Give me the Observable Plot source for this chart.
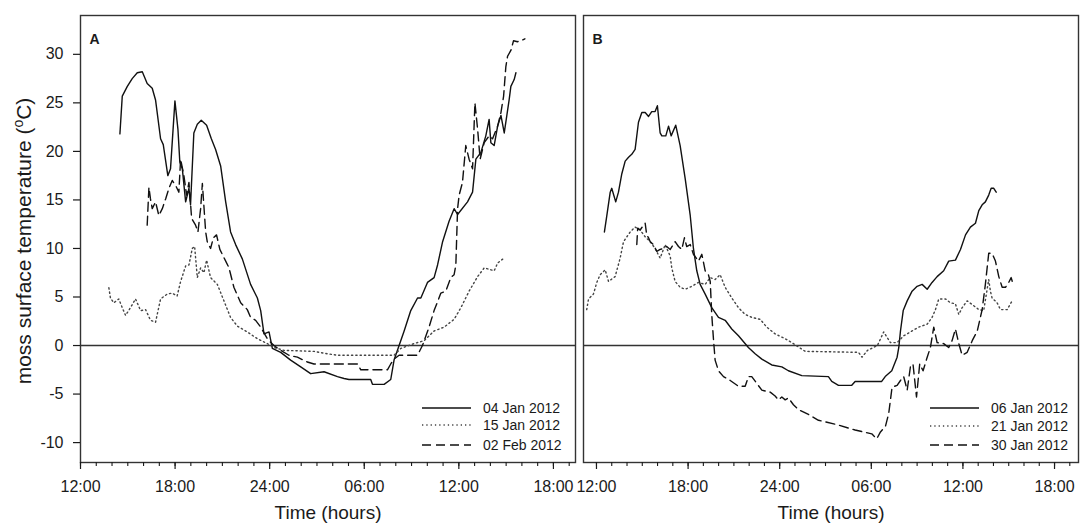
<!DOCTYPE html>
<html><head><meta charset="utf-8">
<script src="https://cdn.jsdelivr.net/npm/d3@7"></script>
<script src="https://cdn.jsdelivr.net/npm/@observablehq/plot@0.6"></script>
<style>
html,body{margin:0;padding:0;background:#fff;}
#wrap{position:relative;width:1092px;height:530px;overflow:hidden;font-family:"Liberation Sans",Arial,sans-serif;}
#wrap > div{position:absolute;top:0;}
</style></head><body>
<div id="wrap"><div id="pa" style="left:0"></div><div id="pb" style="left:578px"></div></div>
<script>
// ---------- data: [hour since midnight of first day, temperature °C] ----------
const seriesNamesA = ["04 Jan 2012", "15 Jan 2012", "02 Feb 2012"];
const seriesNamesB = ["06 Jan 2012", "21 Jan 2012", "30 Jan 2012"];

const a_04Jan = [[14.50,21.8],[14.65,25.7],[14.97,26.7],[15.28,27.5],[15.60,28.1],[15.92,28.2],[16.23,27.0],[16.55,26.5],[16.76,25.3],[17.08,21.3],[17.25,20.7],[17.54,17.5],[17.71,18.2],[17.99,25.2],[18.18,22.3],[18.30,18.9],[18.46,18.2],[18.67,14.8],[18.88,16.2],[18.98,14.5],[19.19,21.9],[19.41,22.8],[19.66,23.2],[20.00,22.7],[20.30,21.3],[20.57,20.2],[20.89,18.5],[21.21,14.8],[21.52,11.7],[21.84,10.4],[22.27,8.9],[22.79,6.3],[23.22,4.9],[23.43,3.6],[23.64,1.2],[23.96,1.4],[24.17,-0.3],[24.70,-0.7],[25.33,-1.5],[25.97,-2.2],[26.60,-2.9],[27.45,-2.7],[28.30,-3.2],[28.72,-3.4],[29.03,-3.5],[30.41,-3.5],[30.52,-4.0],[31.26,-4.0],[31.68,-3.5],[31.89,-1.5],[32.21,0],[32.53,1.5],[32.95,3.6],[33.38,4.9],[33.59,4.9],[34.01,6.5],[34.43,7.0],[34.65,8.3],[34.97,10.7],[35.38,12.8],[35.70,14.1],[35.92,13.5],[36.55,14.8],[36.87,15.8],[37.08,19.2],[37.40,19.9],[37.71,21.6],[37.92,23.3],[38.03,20.9],[38.24,20.6],[38.46,22.6],[38.67,23.7],[38.88,21.9],[39.19,25.3],[39.30,26.7],[39.51,27.4],[39.62,28.1]];

const a_15Jan = [[13.80,5.95],[13.90,4.9],[14.11,4.4],[14.43,4.8],[14.65,3.9],[14.86,3.1],[15.17,3.9],[15.49,4.8],[15.81,3.6],[16.13,3.7],[16.44,2.6],[16.76,2.4],[17.08,4.8],[17.50,5.3],[17.82,5.4],[18.13,5.1],[18.35,6.6],[18.67,8.2],[18.88,8.3],[19.09,10.0],[19.24,10.2],[19.41,7.0],[19.62,8.0],[19.83,7.5],[20.00,8.8],[20.25,7.0],[20.68,6.3],[21.10,4.6],[21.52,2.9],[21.95,2.0],[22.58,1.4],[23.22,0.7],[23.85,0.2],[24.27,-0.2],[24.91,-0.5],[26.81,-0.6],[27.66,-0.85],[28.30,-1.0],[31.89,-1.0],[32.32,-0.3],[33.16,0.2],[33.80,0.5],[34.43,1.5],[35.07,1.9],[35.70,2.7],[36.13,3.9],[36.65,5.6],[37.19,7.1],[37.61,8.0],[38.03,7.8],[38.24,7.7],[38.46,8.5],[38.78,8.9]];

const a_02Feb = [[16.23,12.4],[16.34,16.3],[16.44,15.1],[16.55,14.1],[16.76,14.8],[16.97,13.4],[17.19,14.1],[17.40,15.1],[17.61,16.2],[17.82,17.0],[18.03,16.5],[18.24,15.8],[18.35,19.2],[18.56,17.5],[18.73,15.5],[18.88,16.8],[19.05,13.1],[19.30,12.4],[19.45,11.7],[19.62,14.1],[19.73,16.7],[19.94,11.7],[20.04,10.7],[20.25,10.0],[20.43,11.1],[20.63,11.4],[20.84,9.9],[21.21,8.7],[21.42,8.0],[21.73,6.0],[22.16,4.4],[22.58,3.7],[22.79,2.9],[23.11,2.6],[23.43,1.9],[23.85,0.7],[24.27,0],[24.70,-0.5],[25.22,-1.0],[25.76,-1.2],[26.39,-1.7],[26.81,-1.9],[29.57,-1.9],[29.78,-2.5],[31.47,-2.5],[31.68,-1.9],[31.89,-1.4],[32.21,-1.0],[33.38,-1.0],[33.69,0],[34.11,1.9],[34.43,3.6],[34.86,5.4],[35.17,5.6],[35.49,7.0],[35.70,7.3],[35.81,8.3],[35.92,14.1],[36.02,15.5],[36.23,16.8],[36.44,20.6],[36.65,19.2],[36.87,18.2],[37.02,25.0],[37.19,22.3],[37.35,19.2],[37.61,20.9],[37.92,21.6],[38.14,21.3],[38.46,22.6],[38.67,24.0],[38.84,25.7],[38.98,28.7],[39.09,29.8],[39.30,30.4],[39.47,31.4],[39.72,31.3],[39.94,31.4],[40.19,31.6]];

const b_06Jan = [[12.52,11.7],[12.67,13.3],[12.90,15.8],[13.00,16.2],[13.26,14.8],[13.44,15.8],[13.66,17.7],[13.88,19.0],[14.10,19.4],[14.31,19.7],[14.53,20.2],[14.75,23.0],[14.97,24.0],[15.19,24.0],[15.41,23.6],[15.62,24.1],[15.84,24.1],[15.99,24.7],[16.17,21.9],[16.28,21.6],[16.54,21.6],[16.72,22.6],[16.89,21.6],[17.19,22.7],[17.48,20.6],[17.81,17.2],[18.14,13.4],[18.35,10.0],[18.57,7.7],[18.79,6.3],[19.12,5.3],[19.55,3.9],[19.99,2.9],[20.43,2.6],[20.86,1.7],[21.30,1.0],[21.95,-0.2],[22.39,-0.85],[22.83,-1.4],[23.48,-2.0],[24.14,-2.2],[24.57,-2.6],[25.45,-3.1],[27.19,-3.2],[27.41,-3.7],[27.85,-4.1],[28.72,-4.1],[28.94,-3.7],[30.68,-3.7],[30.91,-3.2],[31.34,-2.6],[31.69,-1.2],[31.80,-0.2],[31.91,1.5],[32.09,3.6],[32.35,4.6],[32.67,5.6],[33.00,6.1],[33.33,6.3],[33.66,5.8],[33.98,6.5],[34.31,7.1],[34.74,7.7],[35.07,8.7],[35.51,8.8],[35.84,9.9],[36.17,11.4],[36.49,12.2],[36.82,12.6],[37.04,13.9],[37.26,14.5],[37.47,14.8],[37.69,15.5],[37.85,16.2],[38.02,16.2],[38.18,15.8]];

const b_21Jan = [[11.36,3.7],[11.48,4.8],[11.80,5.3],[12.02,6.5],[12.24,7.3],[12.57,7.8],[12.79,6.6],[13.22,7.1],[13.55,9.0],[13.77,10.7],[14.21,11.7],[14.53,12.2],[14.86,11.9],[15.19,11.2],[15.52,10.7],[15.84,10.0],[16.17,9.0],[16.50,10.4],[16.83,9.2],[16.93,8.0],[17.15,6.6],[17.48,6.0],[17.81,5.8],[18.24,6.1],[18.68,6.5],[19.12,6.3],[19.45,7.0],[19.77,6.8],[20.10,7.3],[20.43,6.0],[20.86,4.9],[21.30,3.9],[21.74,3.2],[22.17,2.9],[22.72,2.7],[23.15,1.9],[23.70,1.2],[24.36,0.7],[24.79,0.3],[25.67,-0.6],[29.16,-0.7],[29.39,-1.2],[29.75,-0.5],[30.40,0],[30.81,1.4],[31.25,0.3],[31.69,0.3],[32.12,1.0],[32.56,1.4],[33.11,1.9],[33.66,2.2],[33.98,2.9],[34.20,3.7],[34.42,4.8],[34.86,4.8],[35.18,4.4],[35.51,4.3],[35.73,3.2],[35.95,3.9],[36.28,4.6],[36.71,4.1],[37.04,3.7],[37.36,3.6],[37.69,6.8],[37.80,5.6],[37.91,4.9],[38.24,4.4],[38.46,3.7],[38.90,3.7],[39.22,4.6]];

const b_30Jan = [[14.64,10.4],[14.70,12.1],[14.86,11.9],[15.08,12.4],[15.19,12.6],[15.29,11.4],[15.41,11.1],[15.52,10.7],[15.73,10.4],[15.95,9.7],[16.17,9.9],[16.39,10.0],[16.60,10.2],[16.83,9.9],[17.15,10.7],[17.37,10.2],[17.59,9.9],[17.76,11.1],[17.91,10.2],[18.14,10.4],[18.35,9.4],[18.68,8.7],[18.90,9.4],[19.12,7.7],[19.33,7.3],[19.45,6.6],[19.55,3.2],[19.66,0.7],[19.77,-1.5],[19.99,-2.6],[20.32,-3.2],[20.76,-3.6],[21.30,-4.2],[21.74,-4.2],[21.95,-3.2],[22.17,-3.2],[22.50,-3.9],[22.83,-4.6],[23.38,-4.8],[23.70,-5.2],[23.92,-5.6],[24.14,-5.3],[24.36,-5.6],[24.57,-5.4],[24.90,-6.1],[25.23,-6.6],[25.88,-7.1],[26.54,-7.7],[27.63,-8.1],[28.94,-8.7],[30.03,-9.1],[30.36,-9.6],[30.60,-8.9],[30.93,-8.3],[31.14,-7.0],[31.36,-4.3],[31.69,-4.1],[31.91,-3.6],[32.12,-3.2],[32.35,-4.6],[32.56,-2.2],[32.73,-1.9],[32.96,-5.3],[33.17,-1.9],[33.39,-2.6],[33.66,-1.2],[33.87,-0.2],[34.09,1.9],[34.31,0.3],[34.74,0.2],[35.07,-0.2],[35.29,0.5],[35.51,1.7],[35.73,0.2],[35.95,-1.0],[36.28,-0.7],[36.61,0.5],[36.94,1.5],[37.26,3.7],[37.47,6.3],[37.69,9.5],[37.91,9.5],[38.13,8.7],[38.35,7.1],[38.57,6.0],[38.79,6.0],[39.00,6.5],[39.16,7.0],[39.29,6.3]];

const xTickHours = [12, 18, 24, 30, 36, 42];
const xTickLabels = ["12:00", "18:00", "24:00", "06:00", "12:00", "18:00"];
const xMinorHours = d3.range(12, 44, 1);
const yTicks = [-10, -5, 0, 5, 10, 15, 20, 25, 30];

// ---------- styles ----------
const FONT = "Liberation Sans, Arial, sans-serif";
const INK = "#1a1a1a";
const dashes = [null, "1.3,3", "9,5"];
const lineColors = ["#111", "#444", "#111"];
const lineWidths = [1.4, 1.4, 1.4];

function makePanel({series, names, xDomain, width, marginLeft, marginRight, showY, letter, legendX, legendY}) {
  const marks = [
    Plot.frame({stroke: "#333", strokeWidth: 1.4}),
    Plot.ruleY([0], {stroke: "#333", strokeWidth: 1.4}),
    Plot.axisX({ticks: xMinorHours, tickSize: 4, tickFormat: () => "", stroke: INK, strokeWidth: 1.1}),
    Plot.axisX({ticks: xTickHours, tickSize: 7, tickPadding: 11, tickFormat: (d) => xTickLabels[xTickHours.indexOf(d)], fontSize: 16, fill: INK, stroke: INK, strokeWidth: 1.2, label: null}),
    Plot.text(["Time (hours)"], {frameAnchor: "bottom", dy: 56, fontSize: 19, fill: INK}),
    Plot.text([letter], {frameAnchor: "top-left", dx: 14, dy: 19, fontSize: 14, fontWeight: "bold", fill: INK, textAnchor: "middle"})
  ];
  if (showY) marks.push(Plot.axisY({ticks: yTicks, tickSize: 7, tickPadding: 10, tickFormat: (d) => String(d), fontSize: 16, fill: INK, stroke: INK, strokeWidth: 1.2, label: null}));
  series.forEach((s, i) => {
    marks.push(Plot.line(s, {x: (d) => d[0], y: (d) => d[1], stroke: lineColors[i], strokeWidth: lineWidths[i], strokeDasharray: dashes[i] || undefined}));
  });
  const svg = Plot.plot({
    width, height: 530,
    marginLeft, marginRight, marginTop: 15, marginBottom: 68,
    x: {domain: xDomain},
    y: {domain: [-12.05, 34.0], axis: showY ? undefined : null},
    style: {fontFamily: FONT, background: "white", color: INK, overflow: "visible"},
    marks
  });
  // legend (layout in pixels)
  const g = d3.select(svg).append("g").attr("font-family", FONT).attr("font-size", 14).attr("fill", INK).attr("text-anchor", "start");
  names.forEach((n, i) => {
    const y = legendY[i];
    g.append("line").attr("x1", legendX).attr("x2", legendX + 49).attr("y1", y).attr("y2", y)
      .attr("stroke", lineColors[i]).attr("stroke-width", lineWidths[i]).attr("stroke-dasharray", dashes[i] || null);
    g.append("text").attr("x", legendX + 61).attr("y", y).attr("dy", "0.35em").attr("text-anchor", "start").text(n);
  });
  if (showY) {
    const t = d3.select(svg).append("text")
      .attr("transform", "translate(24,241) rotate(-90)")
      .attr("text-anchor", "middle").attr("font-family", FONT).attr("font-size", 21).attr("fill", INK)
      .attr("dy", "0.35em");
    t.append("tspan").text("moss surface temperature (");
    t.append("tspan").attr("font-size", 14).attr("dy", -8).text("o");
    t.append("tspan").attr("dy", 8).text("C)");
  }
  return svg;
}

document.getElementById("pa").appendChild(makePanel({
  series: [a_04Jan, a_15Jan, a_02Feb], names: seriesNamesA,
  xDomain: [12, 43.4], width: 578, marginLeft: 80, marginRight: 3, showY: true, letter: "A",
  legendX: 422, legendY: [408, 425, 445]
}));
document.getElementById("pb").appendChild(makePanel({
  series: [b_06Jan, b_21Jan, b_30Jan], names: seriesNamesB,
  xDomain: [11.15, 43.57], width: 514, marginLeft: 5, marginRight: 14, showY: false, letter: "B",
  legendX: 352, legendY: [408, 426, 445]
}));
</script>
</body></html>
